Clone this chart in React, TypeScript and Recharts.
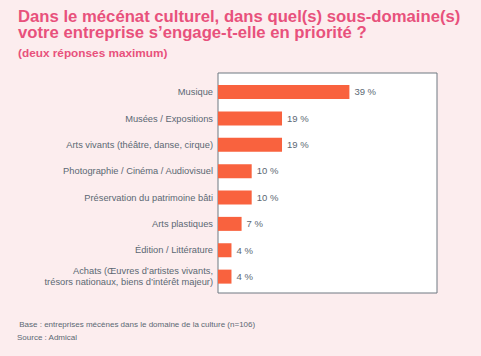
import { BarChart, Bar, XAxis, YAxis, CartesianGrid, LabelList } from 'recharts'

const categories = [
  'Musique',
  'Musées / Expositions',
  'Arts vivants (théâtre, danse, cirque)',
  'Photographie / Cinéma / Audiovisuel',
  'Préservation du patrimoine bâti',
  'Arts plastiques',
  'Édition / Littérature',
  'Achats (Œuvres d’artistes vivants,\ntrésors nationaux, biens d’intérêt majeur)',
]
const shares = [39, 19, 19, 10, 10, 7, 4, 4]

const title = ['Dans le mécénat culturel, dans quel(s) sous-domaine(s)', 'votre entreprise s’engage-t-elle en priorité ?']
const subtitle = '(deux réponses maximum)'
const notes = [' Base : entreprises mécènes dans le domaine de la culture (n=106)', 'Source : Admical']

const data = categories.map((name, i) => ({ name, value: shares[i] }))

const pink = '#e8517c'
const grey = '#5b6873'
const frame = '#6f7981'
const font = '"Liberation Sans", Arial, sans-serif'

function CategoryTick({ x, y, payload }: any) {
  const lines = String(payload.value).split('\n')
  const lh = 10.8
  const y0 = y - ((lines.length - 1) * lh) / 2
  return (
    <text x={x + 3} y={y0} textAnchor="end" fill={grey} fontSize={9.3} fontFamily={font} dominantBaseline="central">
      {lines.map((l, i) => (
        <tspan key={i} x={x + 3} y={y0 + i * lh}>
          {l}
        </tspan>
      ))}
    </text>
  )
}

export default function App() {
  return (
    <div style={{ position: 'absolute', left: 0, top: 0, width: 481, height: 356, background: '#fcedee', fontFamily: font }}>
      <div style={{ position: 'absolute', left: 18, top: 9, color: pink, fontWeight: 'bold', fontSize: 16.7, lineHeight: '15.5px' }}>
        {title.map((t) => (
          <div key={t}>{t}</div>
        ))}
      </div>
      <div style={{ position: 'absolute', left: 18, top: 46, color: pink, fontWeight: 'bold', fontSize: 11.8 }}>{subtitle}</div>
      <BarChart
        width={481}
        height={356}
        data={data}
        layout="vertical"
        margin={{ top: 73, right: 44, bottom: 63, left: 0 }}
        style={{ position: 'absolute', left: 0, top: 0 }}
      >
        <CartesianGrid
          fill="#ffffff"
          stroke={frame}
          strokeWidth={1}
          horizontalCoordinatesGenerator={({ offset }: any) => [offset.top, offset.top + offset.height]}
          verticalCoordinatesGenerator={({ offset }: any) => [offset.left, offset.left + offset.width]}
        />
        <XAxis type="number" domain={[0, 65]} hide />
        <YAxis
          type="category"
          dataKey="name"
          width={218}
          padding={{ top: 6, bottom: 3 }}
          tick={<CategoryTick />}
          tickLine={false}
          axisLine={false}
          interval={0}
        />
        <Bar dataKey="value" fill="#f9623e" barSize={14} isAnimationActive={false}>
          <LabelList dataKey="value" position="right" offset={5} formatter={(v: any) => `${v} %`} fill={grey} fontSize={9.5} fontFamily={font} />
        </Bar>
      </BarChart>
      <div style={{ position: 'absolute', left: 17, top: 318, color: grey, fontSize: 8, lineHeight: '13px', whiteSpace: 'pre' }}>
        {notes.map((n) => (
          <div key={n}>{n}</div>
        ))}
      </div>
    </div>
  )
}
